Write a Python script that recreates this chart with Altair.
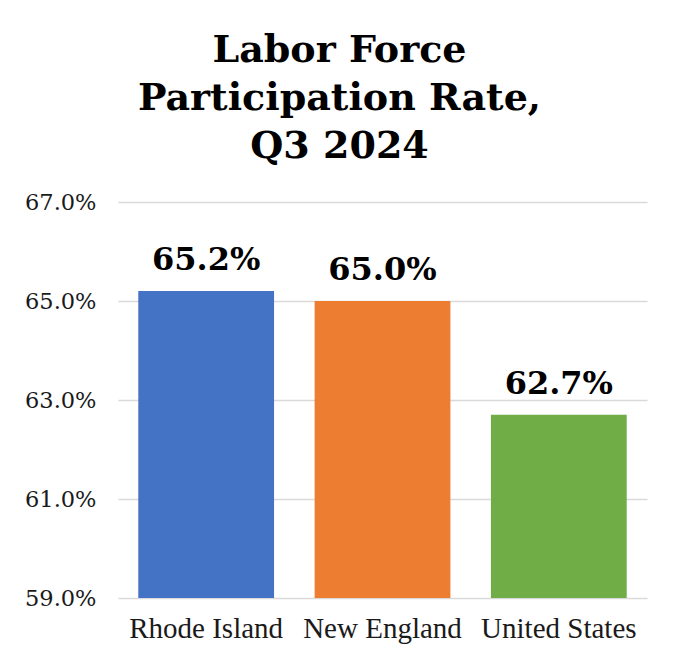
import altair as alt
import pandas as pd

categories = ["Rhode Island", "New England", "United States"]
values = [65.2, 65.0, 62.7]
colors = ["#4472C4", "#ED7D31", "#70AD47"]
y_min = 59.0
y_max = 67.0
y_ticks = [59.0, 61.0, 63.0, 65.0, 67.0]
title_lines = ["Labor Force", "Participation Rate,", "Q3 2024"]

df = pd.DataFrame({"region": categories, "rate": values})

x_enc = alt.X("region:N", sort=categories, title=None,
              scale=alt.Scale(paddingInner=0.23, paddingOuter=0.115),
              axis=alt.Axis(labelAngle=0, labelFont="Liberation Serif", labelFontSize=29,
                            labelColor="#1a1a1a", labelPadding=16, ticks=False, domain=False,
                            grid=False))
y_enc = alt.Y("rate:Q", title=None,
              scale=alt.Scale(domain=[y_min, y_max], zero=False, nice=False),
              axis=alt.Axis(values=y_ticks, labelExpr="format(datum.value, '.1f') + '%'",
                            labelFont="DejaVu Serif", labelFontSize=22.5, labelColor="#1a1a1a",
                            labelPadding=22, ticks=False, domain=False,
                            grid=True, gridColor="#d9d9d9", gridWidth=1.5))

bars = alt.Chart(df).mark_bar().encode(
    x=x_enc,
    y=y_enc,
    y2=alt.datum(y_min),
    color=alt.Color("region:N", sort=categories,
                    scale=alt.Scale(domain=categories, range=colors), legend=None),
)

labels = alt.Chart(df).transform_calculate(
    label="format(datum.rate, '.1f') + '%'"
).mark_text(
    font="DejaVu Serif", fontWeight="bold", fontSize=32, baseline="alphabetic", dy=-21,
    color="#000000",
).encode(
    x=alt.X("region:N", sort=categories),
    y=alt.Y("rate:Q"),
    text="label:N",
)

chart = alt.layer(bars, labels).properties(
    width=529,
    height=396,
    title=alt.TitleParams(text=title_lines, font="DejaVu Serif", fontWeight="bold",
                          fontSize=38, lineHeight=48, color="#000000", anchor="middle",
                          dx=-43, offset=25),
    autosize=alt.AutoSizeParams(type="none"),
    padding={"left": 110, "top": 194, "right": 25, "bottom": 58},
    background="white",
).configure_view(stroke=None)

chart.save("out.html", embed_options={"renderer": "svg", "actions": False})
